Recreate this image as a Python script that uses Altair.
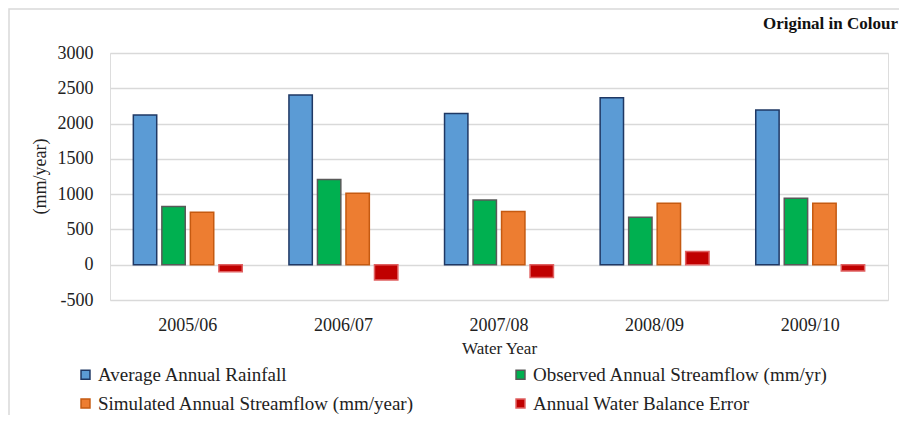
import altair as alt
import pandas as pd

years = ["2005/06", "2006/07", "2007/08", "2008/09", "2009/10"]
series = [
    "Average Annual Rainfall",
    "Observed Annual Streamflow  (mm/yr)",
    "Simulated Annual Streamflow (mm/year)",
    "Annual Water Balance Error",
]
rainfall = [2120, 2404, 2144, 2367, 2191]
observed = [824, 1207, 918, 672, 942]
simulated = [743, 1013, 753, 871, 871]
wb_error = [-100, -215, -180, 189, -88]

fills = ["#5b9bd5", "#00b050", "#ed7d31", "#c00000"]
strokes = ["#1f3864", "#595959", "#c55a11", "#e06060"]

# legend is laid out column by column: reorder so rows read like the reference
legend_order = [series[0], series[2], series[1], series[3]]
legend_fills = [fills[0], fills[2], fills[1], fills[3]]
legend_strokes = [strokes[0], strokes[2], strokes[1], strokes[3]]

rows = []
for s, vals in zip(series, [rainfall, observed, simulated, wb_error]):
    for y, v in zip(years, vals):
        rows.append({"Year": y, "Series": s, "Value": v})
df = pd.DataFrame(rows)

FONT = "Liberation Serif"


def make_legend():
    return alt.Legend(title=None, orient="none", legendX=-34, legendY=312,
                      columns=2, columnPadding=96, rowPadding=9,
                      symbolType="square", symbolSize=80,
                      symbolStrokeWidth=1.5, labelFontSize=19,
                      labelFont=FONT, labelColor="#222", labelLimit=500,
                      labelOffset=3)


bars = alt.Chart(df).mark_bar(strokeWidth=1.5).encode(
    x=alt.X("Year:N", sort=years,
            scale=alt.Scale(paddingInner=0.3, paddingOuter=0.15),
            axis=alt.Axis(title="Water Year", labelAngle=0, domain=False, ticks=False,
                          labelPadding=16, titlePadding=6, labelFontSize=18,
                          titleFontSize=17, labelColor="#222", titleColor="#222",
                          titleFontWeight="normal", labelFont=FONT, titleFont=FONT)),
    xOffset=alt.XOffset("Series:N", sort=series,
                        scale=alt.Scale(paddingInner=0.18, paddingOuter=0)),
    y=alt.Y("Value:Q", scale=alt.Scale(domain=[-500, 3000], nice=False),
            axis=alt.Axis(title="(mm/year)", values=list(range(-500, 3001, 500)),
                          labelExpr="'' + datum.value",
                          domain=False, ticks=False, labelPadding=17,
                          gridColor="#d9d9d9", gridWidth=1.5,
                          labelFontSize=18, titleFontSize=18, labelColor="#222",
                          titleColor="#222", titleFontWeight="normal",
                          labelFont=FONT, titleFont=FONT,
                          titleAngle=270, titleAlign="center", titleBaseline="middle",
                          titleX=-70, titleY=123)),
    fill=alt.Fill("Series:N",
                  scale=alt.Scale(domain=legend_order, range=legend_fills),
                  legend=make_legend()),
    stroke=alt.Stroke("Series:N",
                      scale=alt.Scale(domain=legend_order, range=legend_strokes),
                      legend=make_legend()),
)

frame_df = pd.DataFrame({"k": [0]})
frame = alt.Chart(frame_df).mark_rect(fill="transparent", stroke="#d9d9d9",
                                      strokeWidth=1.5, clip=False).encode(
    x=alt.value(-101), x2=alt.value(900), y=alt.value(-44), y2=alt.value(500)
)

chart = alt.layer(frame, bars).properties(
    width=778, height=247,
    autosize=alt.AutoSizeParams(type="none"),
    padding={"left": 102, "top": 45, "right": 11, "bottom": 115},
    title=alt.TitleParams("Original in Colour", anchor="end", frame="group",
                          font=FONT, fontSize=17, fontWeight="bold", color="#111",
                          offset=-25, dx=10),
).configure_view(stroke=None).configure(background="white")

chart.save("out.html", embed_options={"renderer": "svg", "actions": False})
